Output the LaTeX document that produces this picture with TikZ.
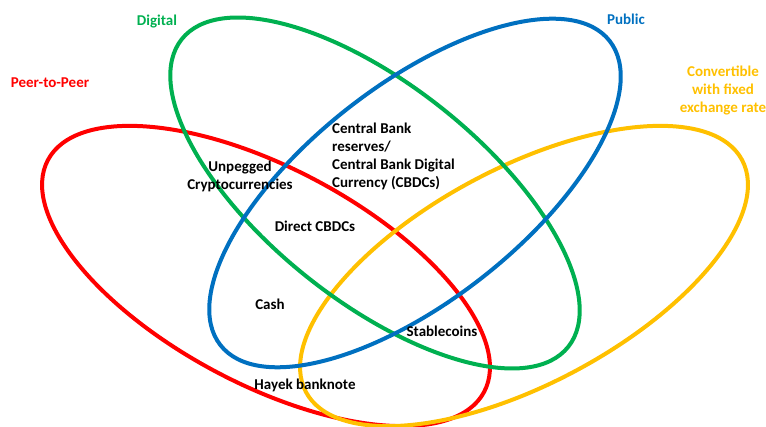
\documentclass[tikz,border=0pt]{standalone}
\usepackage{fontspec}
\setmainfont{Carlito}
\usepackage{xcolor}
\usepackage{tikz}
\usetikzlibrary{positioning}
\definecolor{p2pred}{HTML}{FF0000}
\definecolor{diggreen}{HTML}{00B050}
\definecolor{pubblue}{HTML}{0070C0}
\definecolor{convyellow}{HTML}{FFC000}

\tikzset{
  setline/.style={line width=4pt},
  lbl/.style={font=\bfseries\fontsize{15}{18}\selectfont,align=center,inner sep=0pt},
}

\begin{document}
\begin{tikzpicture}[x=1pt,y=1pt]
  \useasboundingbox (0,0) rectangle (766,427);
  % the four sets, all the same ellipse turned differently
  \foreach \cx/\cy/\ang/\col in {
      266/151/-28/p2pred,
      524/151/28/convyellow,
      375/234/-38.5/diggreen,
      415/234/38/pubblue}{
    \draw[setline,\col,rotate around={\ang:(\cx,\cy)}] (\cx,\cy) ellipse (247 and 108);
  }
  % set names
  \node[lbl,diggreen] (digital) at (157,405) {Digital};
  \node[lbl,p2pred] (peer) at (50,344) {Peer-to-Peer};
  \node[lbl,pubblue] (public) at (626,408) {Public};
  \node[lbl,convyellow] (convertible) at (723,336) {Convertible\\with fixed\\exchange rate};
  % members
  \node[lbl] (unpegged) at (240,251) {Unpegged\\Cryptocurrencies};
  \node[lbl,anchor=west,align=left] (cbreserves) at (332,271) {Central Bank\\reserves/\\Central Bank Digital\\Currency (CBDCs)};
  \node[lbl] (direct) at (315,201) {Direct CBDCs};
  \node[lbl] (cash) at (270,123) {Cash};
  \node[lbl] (stable) at (442,96) {Stablecoins};
  \node[lbl] (hayek) at (305,42) {Hayek banknote};
\end{tikzpicture}
\end{document}
